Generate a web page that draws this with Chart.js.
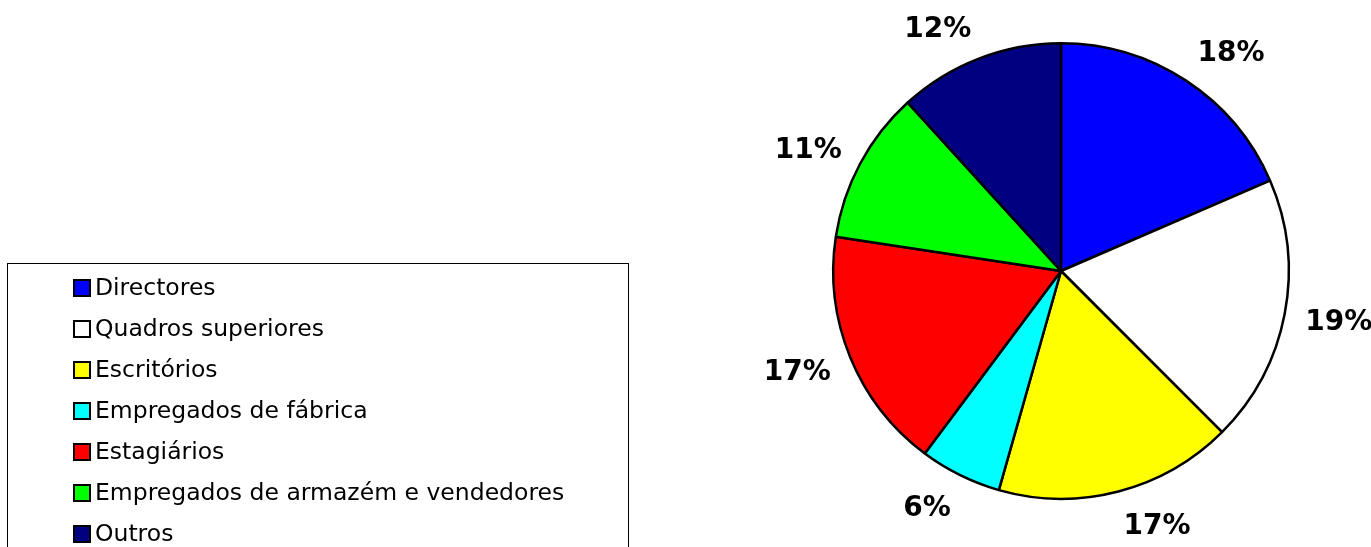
<!DOCTYPE html>
<html><head><meta charset="utf-8">
<script src="https://cdn.jsdelivr.net/npm/chart.js@4"></script>
<style>
html,body{margin:0;padding:0;background:#fff;overflow:hidden}
#wrap{position:relative;width:1371px;height:547px}
canvas{position:absolute;left:0;top:0}
#legend{position:absolute;left:7px;top:263px;width:622px;height:300px;border:1px solid #000;box-sizing:border-box;font-family:"DejaVu Sans",sans-serif;font-size:23.5px;color:#000}
.sw{position:absolute;left:65px;width:14px;height:14px;border:2px solid #000}
.tx{position:absolute;left:87px;height:30px;line-height:30px;white-space:nowrap}
</style></head>
<body><div id="wrap"><canvas id="c" width="1371" height="547"></canvas><div id="legend"></div></div>
<script>
const categories = ["Directores","Quadros superiores","Escritórios","Empregados de fábrica","Estagiários","Empregados de armazém e vendedores","Outros"];
const values = [18.5, 19.0, 16.9, 5.8, 17.2, 10.85, 11.75];
const labels = ["18%","19%","17%","6%","17%","11%","12%"];
const colors = ["#0000FF","#FFFFFF","#FFFF00","#00FFFF","#FF0000","#00FF00","#000080"];

const leg = document.getElementById('legend');
categories.forEach((c,i)=>{
  const cy = 24 + i*41;
  const s=document.createElement('div');s.className='sw';s.style.top=(cy-9)+'px';s.style.background=colors[i];
  const t=document.createElement('div');t.className='tx';t.style.top=(cy-16)+'px';t.textContent=c;
  leg.appendChild(s);leg.appendChild(t);
});

const labelPlugin = {
  id:'outLabels',
  afterDatasetsDraw(chart){
    const ctx=chart.ctx;
    const meta=chart.getDatasetMeta(0);
    ctx.save();
    ctx.font='bold 28px "DejaVu Sans",sans-serif';
    ctx.fillStyle='#000';ctx.textAlign='center';ctx.textBaseline='alphabetic';
    const capH=20.4;
    meta.data.forEach((arc,i)=>{
      const p=arc.getProps(['x','y','startAngle','endAngle','outerRadius'],true);
      const a=(p.startAngle+p.endAngle)/2;
      const R=p.outerRadius+21;
      const ax=p.x+Math.cos(a)*R, ay=p.y+Math.sin(a)*R;
      const w=ctx.measureText(labels[i]).width, h=24;
      const c=Math.cos(a), s=Math.sin(a);
      const dx=Math.sign(c)*w/2;
      const dy=Math.abs(s)>0.6 ? Math.sign(s)*h/2 : s*h/2;
      ctx.fillText(labels[i], ax+dx, ay+dy+capH/2);
    });
    ctx.restore();
  }
};

new Chart(document.getElementById('c'),{
  type:'pie',
  data:{labels:categories,datasets:[{data:values,backgroundColor:colors,borderColor:'#000',borderWidth:2.5}]},
  options:{responsive:false,animation:false,
    layout:{padding:{left:831,right:80,top:42,bottom:47}},
    plugins:{legend:{display:false},tooltip:{enabled:false}}},
  plugins:[labelPlugin]
});
</script></body></html>
